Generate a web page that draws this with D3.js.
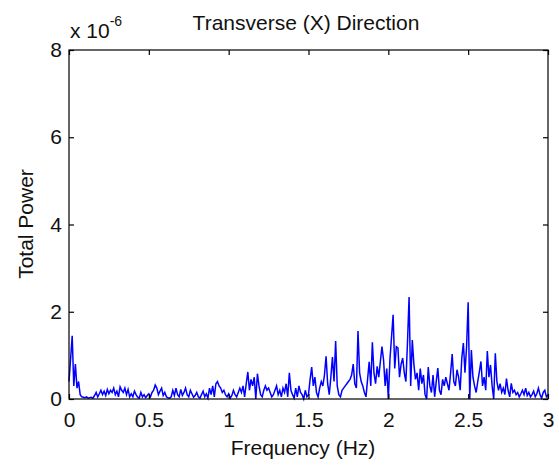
<!DOCTYPE html>
<html>
<head>
<meta charset="utf-8">
<script src="https://cdn.jsdelivr.net/npm/d3@7"></script>
<style>
  body { margin: 0; background: #fff; }
  svg { display: block; }
  text { font-family: "Liberation Sans", Arial, sans-serif; fill: #111; }
</style>
</head>
<body>
<svg id="chart" width="559" height="471"></svg>
<script>
// frequency step of the spectrum (Hz) and power values (x 1e-6), one per 0.01 Hz
const freqStep = 0.01;
const power = [
  0.40, 0.92, 1.45, 0.30, 0.80, 0.25, 0.40, 0.10, 0.05, 0.04,
  0.03, 0.05, 0.02, 0.03, 0.04, 0.02, 0.08, 0.15, 0.05, 0.12,
  0.20, 0.10, 0.18, 0.08, 0.22, 0.12, 0.20, 0.15, 0.25, 0.10,
  0.18, 0.05, 0.28, 0.20, 0.15, 0.25, 0.10, 0.22, 0.05, 0.12,
  0.05, 0.18, 0.10, 0.04, 0.02, 0.15, 0.05, 0.10, 0.03, 0.08,
  0.12, 0.05, 0.15, 0.20, 0.32, 0.25, 0.10, 0.18, 0.25, 0.08,
  0.15, 0.05, 0.03, 0.02, 0.05, 0.20, 0.08, 0.25, 0.10, 0.05,
  0.22, 0.08, 0.15, 0.25, 0.10, 0.05, 0.20, 0.12, 0.04, 0.08,
  0.15, 0.05, 0.02, 0.10, 0.18, 0.05, 0.12, 0.02, 0.25, 0.10,
  0.30, 0.05, 0.35, 0.40, 0.30, 0.25, 0.15, 0.20, 0.10, 0.05,
  0.12, 0.02, 0.08, 0.20, 0.10, 0.05, 0.15, 0.25, 0.15, 0.30,
  0.05, 0.35, 0.62, 0.20, 0.45, 0.30, 0.50, 0.00, 0.58, 0.30,
  0.10, 0.05, 0.20, 0.30, 0.20, 0.25, 0.15, 0.05, 0.10, 0.20,
  0.30, 0.10, 0.20, 0.05, 0.25, 0.15, 0.35, 0.05, 0.60, 0.20,
  0.10, 0.02, 0.25, 0.05, 0.30, 0.15, 0.10, 0.00, 0.20, 0.05,
  0.10, 0.45, 0.73, 0.30, 0.50, 0.15, 0.05, 0.25, 0.40, 0.30,
  0.55, 0.98, 0.35, 0.10, 0.50, 0.96, 0.40, 1.33, 0.30, 0.10,
  0.05, 0.20, 0.25, 0.30, 0.35, 0.40, 0.45, 0.55, 0.80, 0.35,
  0.25, 1.56, 0.60, 0.40, 0.30, 0.15, 0.05, 0.45, 0.85, 0.30,
  1.30, 0.60, 0.35, 0.75, 0.50, 0.85, 1.20, 0.90, 0.30, 0.70,
  0.00, 0.90, 1.42, 1.93, 0.70, 1.20, 1.17, 0.50, 0.80, 0.94,
  0.60, 0.40, 1.30, 2.34, 0.30, 1.35, 0.80, 0.45, 0.60, 0.20,
  0.70, 0.35, 0.55, 0.10, 0.00, 0.73, 0.30, 0.15, 0.55, 0.05,
  0.40, 0.71, 0.20, 0.10, 0.45, 0.30, 0.50, 0.35, 0.20, 0.60,
  1.03, 0.40, 0.30, 0.67, 0.50, 0.20, 0.93, 1.28, 0.60, 1.19,
  2.22, 0.00, 1.12, 0.50, 0.30, 0.15, 0.40, 0.62, 0.86, 0.30,
  0.50, 0.20, 1.10, 0.50, 0.78, 0.30, 0.00, 1.05, 0.40, 0.20,
  0.35, 0.15, 0.25, 0.10, 0.47, 0.20, 0.05, 0.36, 0.15, 0.20,
  0.10, 0.15, 0.05, 0.12, 0.20, 0.10, 0.25, 0.08, 0.15, 0.05,
  0.10, 0.18, 0.05, 0.12, 0.25, 0.10, 0.02, 0.15, 0.20, 0.05,
  0.10
];
const xTicks = [0, 0.5, 1, 1.5, 2, 2.5, 3];
const yTicks = [0, 2, 4, 6, 8];

const svg = d3.select('#chart');
const box = {left: 69, right: 548, top: 50, bottom: 399};

const x = d3.scaleLinear().domain([0, 3]).range([box.left, box.right]);
const y = d3.scaleLinear().domain([0, 8]).range([box.bottom, box.top]);

svg.append('rect').attr('width', 559).attr('height', 471).attr('fill', '#fff');

// data line
const line = d3.line()
    .x((d, i) => x(i * freqStep))
    .y(d => y(d));

svg.append('path')
    .datum(power)
    .attr('fill', 'none')
    .attr('stroke', '#0000ff')
    .attr('stroke-width', 1.5)
    .attr('d', line);

// axes, ticks pointing inward like matlab
function style(g) {
    g.select('.domain').remove();
    g.selectAll('line').attr('stroke', '#000').attr('stroke-width', 1.2);
    g.selectAll('text').attr('font-size', 21).attr('font-family', '"Liberation Sans", Arial, sans-serif').attr('fill', '#111');
}

svg.append('g')
    .attr('transform', `translate(0,${box.bottom})`)
    .call(d3.axisBottom(x).tickValues(xTicks).tickFormat(d => String(d)).tickSize(-5).tickPadding(13))
    .call(style);

svg.append('g')
    .attr('transform', `translate(0,${box.top})`)
    .call(d3.axisTop(x).tickValues(xTicks).tickFormat('').tickSize(-5))
    .call(style);

svg.append('g')
    .attr('transform', `translate(${box.left},0)`)
    .call(d3.axisLeft(y).tickValues(yTicks).tickFormat(d => String(d)).tickSize(-5).tickPadding(7))
    .call(style);

svg.append('g')
    .attr('transform', `translate(${box.right},0)`)
    .call(d3.axisRight(y).tickValues(yTicks).tickFormat('').tickSize(-5))
    .call(style);

// box
svg.append('rect')
    .attr('x', box.left).attr('y', box.top)
    .attr('width', box.right - box.left).attr('height', box.bottom - box.top)
    .attr('fill', 'none').attr('stroke', '#000').attr('stroke-width', 1.2);

// title and labels
svg.append('text')
    .attr('x', 306).attr('y', 30)
    .attr('text-anchor', 'middle').attr('font-size', 21)
    .text('Transverse (X) Direction');

svg.append('text')
    .attr('x', 303).attr('y', 455)
    .attr('text-anchor', 'middle').attr('font-size', 21)
    .text('Frequency (Hz)');

svg.append('text')
    .attr('transform', 'translate(33,224) rotate(-90)')
    .attr('text-anchor', 'middle').attr('font-size', 21)
    .text('Total Power');

// exponent label
const ex = svg.append('text').attr('x', 70).attr('y', 38).attr('font-size', 21);
ex.append('tspan').text('x 10');
ex.append('tspan').attr('dy', -12).attr('font-size', 14).text('-6');
</script>
</body>
</html>
